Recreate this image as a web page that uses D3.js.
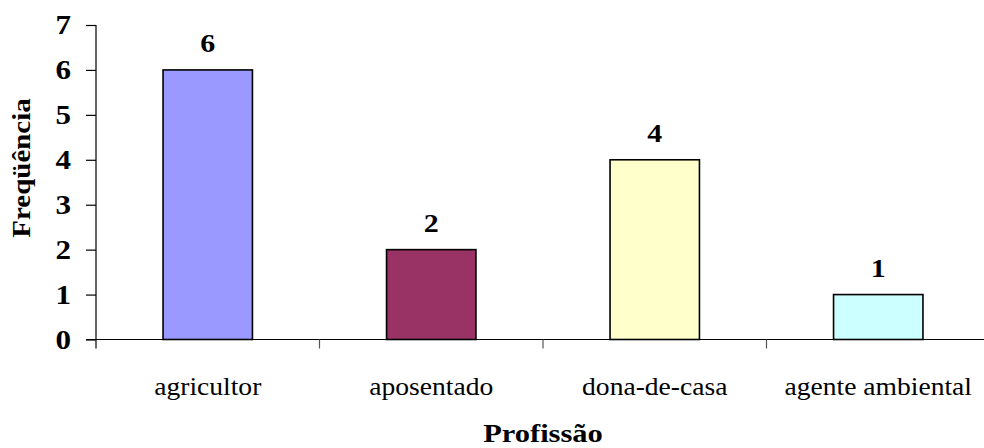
<!DOCTYPE html>
<html>
<head>
<meta charset="utf-8">
<script src="https://cdn.jsdelivr.net/npm/d3@7"></script>
<style>
  html, body { margin: 0; padding: 0; background: #fff; }
  svg { display: block; }
</style>
</head>
<body>
<svg id="chart" width="984" height="448"></svg>
<script>
// Profession frequencies
const categories = ["agricultor", "aposentado", "dona-de-casa", "agente ambiental"];
const values = [6, 2, 4, 1];
const colors = ["#9999FF", "#993366", "#FFFFCC", "#CCFFFF"];
const yTicks = [0, 1, 2, 3, 4, 5, 6, 7];

const FONT = "'Liberation Serif', 'Times New Roman', Times, serif";
const svg = d3.select("#chart");
const margin = { left: 96, right: -6, top: 25, bottom: 108.5 };
const W = 984, H = 448;

const x = d3.scaleBand()
  .domain(categories)
  .range([margin.left, W - margin.right])
  .paddingInner(0.6)
  .paddingOuter(0.3);

const y = d3.scaleLinear()
  .domain([0, 7])
  .range([H - margin.bottom, margin.top]);

// Shared text styling
function label(sel, size, weight) {
  return sel.style("font-family", FONT)
    .style("font-size", size + "px")
    .style("font-weight", weight)
    .attr("fill", "#000");
}

// Bars
svg.append("g").selectAll("rect")
  .data(categories)
  .join("rect")
  .attr("x", d => x(d))
  .attr("y", (d, i) => y(values[i]))
  .attr("width", x.bandwidth())
  .attr("height", (d, i) => y(0) - y(values[i]))
  .attr("fill", (d, i) => colors[i])
  .attr("stroke", "#000")
  .attr("stroke-width", 1.6);

// Value labels above bars
label(svg.append("g").selectAll("text")
  .data(categories)
  .join("text")
  .attr("transform", (d, i) => `translate(${x(d) + x.bandwidth() / 2},${y(values[i]) - 18}) scale(1.15,1)`)
  .attr("text-anchor", "middle"), 26, "bold")
  .text((d, i) => values[i]);

// Y axis (line and ticks)
const yAxis = svg.append("g")
  .attr("transform", `translate(${margin.left},0)`)
  .call(d3.axisLeft(y).tickValues(yTicks).tickSize(10).tickFormat(""));
yAxis.select(".domain")
  .attr("d", `M0,${y(7)}V${y(0) + 9}`)
  .attr("stroke", "#000")
  .attr("stroke-width", 1.2);
yAxis.selectAll(".tick line").attr("stroke", "#000").attr("stroke-width", 1.2);

// Y tick labels
label(svg.append("g").selectAll("text")
  .data(yTicks)
  .join("text")
  .attr("transform", d => `translate(71,${y(d) + 9}) scale(1.15,1)`)
  .attr("text-anchor", "end"), 27, "bold")
  .text(d3.format("d"));

// X axis: baseline and boundary ticks between categories
const bandStep = x.step();
const boundaries = d3.range(categories.length + 1).map(i => margin.left + i * bandStep);
const xg = svg.append("g");
xg.append("line")
  .attr("x1", margin.left - 10).attr("x2", W)
  .attr("y1", y(0)).attr("y2", y(0))
  .attr("stroke", "#000").attr("stroke-width", 1.2);
xg.selectAll("line.tick")
  .data(boundaries.slice(1))
  .join("line")
  .attr("class", "tick")
  .attr("x1", d => d).attr("x2", d => d)
  .attr("y1", y(0)).attr("y2", y(0) + 9)
  .attr("stroke", "#555").attr("stroke-width", 1.2);

// Category labels
label(xg.selectAll("text")
  .data(categories)
  .join("text")
  .attr("transform", d => `translate(${x(d) + x.bandwidth() / 2},395) scale(1.06,1)`)
  .attr("text-anchor", "middle"), 26, "normal")
  .text(d => d);

// Axis titles
label(svg.append("text")
  .attr("transform", `translate(${(margin.left + boundaries[boundaries.length - 1]) / 2},442) scale(1.22,1)`)
  .attr("text-anchor", "middle"), 25, "bold")
  .text("Profissão");

label(svg.append("text")
  .attr("transform", `translate(30,168) rotate(-90) scale(1.16,1)`)
  .attr("text-anchor", "middle"), 25, "bold")
  .text("Freqüência");
</script>
</body>
</html>
